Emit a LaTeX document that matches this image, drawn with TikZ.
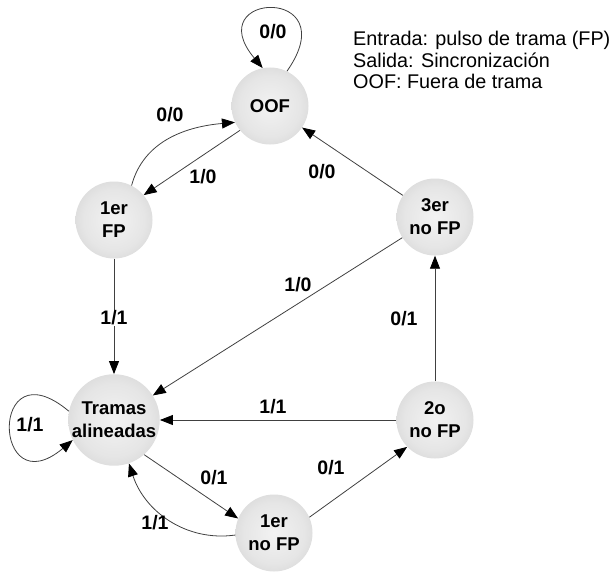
\documentclass[tikz,border=0pt]{standalone}
\usepackage{fontspec}
\setmainfont{Liberation Sans}
\usetikzlibrary{arrows.meta}
\pgfdeclareradialshading{sphere}{\pgfpoint{0bp}{0bp}}{color(0bp)=(black!5); color(20bp)=(black!10); color(38bp)=(black!20); color(50bp)=(black!31)}
\begin{document}
\begin{tikzpicture}[x=1pt,y=1pt,
  state/.style={circle, shading=sphere, minimum size=77pt, inner sep=0pt, align=center,
    font=\fontsize{18.5}{23}\selectfont\bfseries},
  lab/.style={font=\fontsize{19.5}{21}\selectfont\bfseries, inner sep=1pt},
  legend/.style={font=\fontsize{19.8}{22}\selectfont, anchor=base west, inner sep=0pt},
  conn/.style={draw=black!75, line width=0.8pt, -{Triangle[length=13pt,width=10pt,color=black]}},
]
\useasboundingbox (0,0) rectangle (615,-575);

\node[state] (oof)   at (270,-106) {OOF};
\node[state] (fp)    at (114,-220) {1er\\FP};
\node[state] (three) at (435,-217) {3er\\no FP};
\node[state] (tram)  at (114,-420) {Tramas\\alineadas};
\node[state] (two)   at (435,-420) {2o\\no FP};
\node[state] (erno)  at (274,-533) {1er\\no FP};

\draw[conn] (oof.64) .. controls +(55:105) and +(130:100) .. (oof.101);
\draw[conn] (fp.63) to[out=75,in=185] (oof.205);
\draw[conn] (oof.219) -- (fp.40);
\draw[conn] (fp) -- (tram);
\draw[conn] (three) -- (oof);
\draw[conn] (three) -- (tram);
\draw[conn] (two) -- (three);
\draw[conn] (two) -- (tram);
\draw[conn] (tram.169) .. controls +(140:105) and +(220:105) .. (tram.206);
\draw[conn] (tram.-49) -- (erno.158);
\draw[conn] (erno.183) to[out=188,in=-72] (tram.-71);
\draw[conn] (erno.24) -- (two.224);

\node[lab] (l1)  at (273,-32)  {0/0};
\node[lab] (l2)  at (170,-115) {0/0};
\node[lab] (l3)  at (203,-177) {1/0};
\node[lab, fill=white] (l4) at (114,-318) {1/1};
\node[lab] (l5)  at (322,-172) {0/0};
\node[lab] (l6)  at (298,-285) {1/0};
\node[lab] (l7)  at (404,-319) {0/1};
\node[lab] (l8)  at (273,-407) {1/1};
\node[lab] (l9)  at (30,-425)  {1/1};
\node[lab] (l10) at (214,-478) {0/1};
\node[lab] (l11) at (155,-523) {1/1};
\node[lab] (l12) at (331,-468) {0/1};

\node[legend] (leg1) at (353,-46) {Entrada: pulso de trama (FP)};
\node[legend] (leg2) at (353,-67.5) {Salida: Sincronización};
\node[legend] (leg3) at (353,-89) {OOF: Fuera de trama};
\end{tikzpicture}
\end{document}
